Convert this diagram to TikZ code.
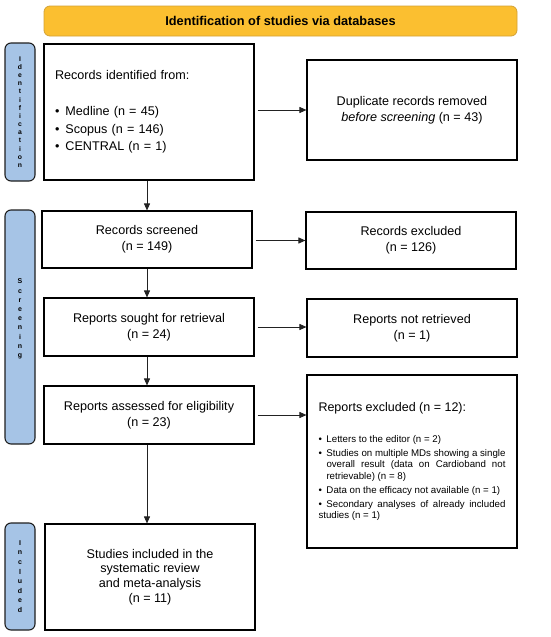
\documentclass[tikz,border=0pt]{standalone}
\usepackage{fontspec}
\setmainfont{Liberation Sans}
\usetikzlibrary{arrows.meta,calc}
\definecolor{bannerfill}{HTML}{FBBF30}
\definecolor{bannerdraw}{HTML}{D4A234}
\definecolor{sidefill}{HTML}{A6C4E6}
\definecolor{sidedraw}{HTML}{1F1F1F}
\definecolor{arrowcol}{HTML}{222222}
\newcommand\exitem[1]{\par\vspace{2.8pt}\hangindent=8pt\hangafter=1\noindent\makebox[8pt][l]{\textbullet}#1}
\newcommand\idbullet{\makebox[10.5pt][l]{\textbullet}}
\begin{document}
\begin{tikzpicture}[x=1pt,y=-1pt,
  box/.style={draw=black, line width=1.1pt, minimum width=210pt, align=center, inner sep=0pt,
    font=\fontsize{12.6}{15.8}\selectfont},
  sidebar/.style={draw=sidedraw, fill=sidefill, line width=1.1pt, rounded corners=6pt,
    minimum width=30pt, align=center, inner sep=0pt,
    font=\fontsize{7}{9.6}\selectfont\bfseries},
  banner/.style={draw=bannerdraw, fill=bannerfill, line width=0.8pt, rounded corners=6pt,
    minimum width=473pt, minimum height=30pt, inner sep=0pt,
    font=\fontsize{12.75}{15}\selectfont\bfseries},
  arr/.style={draw=arrowcol, line width=0.9pt, -{Triangle[length=7pt,width=6pt]}}]
\useasboundingbox[fill=white] (0,0) rectangle (550,637);

% banner
\node[banner] (banner) at (280.5,21) {Identification of studies via databases};

% side bars
\node[sidebar, minimum height=138pt, font=\fontsize{6.8}{8.15}\selectfont\bfseries] (sideid) at (20,112)
  {I\\d\\e\\n\\t\\i\\f\\i\\c\\a\\t\\i\\o\\n};
\node[sidebar, minimum height=234pt] (sidescr) at (20,327) {};
\node[font=\fontsize{7}{9.2}\selectfont\bfseries, align=center, inner sep=0pt] (sidescrtext) at (20,319)
  {S\\c\\r\\e\\e\\n\\i\\n\\g};
\node[sidebar, minimum height=107pt] (sideinc) at (20,576.5) {I\\n\\c\\l\\u\\d\\e\\d};

% left column
\node[box, minimum height=136pt, text width=188pt, align=left, inner xsep=11pt,
  font=\fontsize{12.6}{17.5}\selectfont] (ident) at (149,112)
  {Records identified from:\\[18.5pt]
   \idbullet Medline (n = 45)\\
   \idbullet Scopus (n = 146)\\
   \idbullet CENTRAL (n = 1)};
\node[box, minimum height=57pt] (screened) at (147,239.5) {Records screened\\(n = 149)};
\node[box, minimum height=58pt] (sought) at (149,327) {Reports sought for retrieval\\(n = 24)};
\node[box, minimum height=58pt] (assessed) at (149,415) {Reports assessed for eligibility\\(n = 23)};
\node[box, minimum height=106pt, font=\fontsize{12.6}{14.7}\selectfont] (included) at (150,577)
  {Studies included in the\\systematic review\\and meta-analysis\\(n = 11)};

% right column
\node[box, minimum height=100pt] (dup) at (412,110)
  {Duplicate records removed\\\textit{before screening} (n = 43)};
\node[box, minimum height=57pt] (excl) at (411,240.5) {Records excluded\\(n = 126)};
\node[box, minimum height=58pt] (notret) at (412,328) {Reports not retrieved\\(n = 1)};
\node[box, minimum height=173pt, text width=187pt, inner xsep=11.5pt, align=justify,
  font=\fontsize{9.7}{11.3}\selectfont] (repexcl) at (412,461.5)
  {\hyphenpenalty=10000 \exhyphenpenalty=10000 \noindent
   {\fontsize{12.5}{15}\selectfont Reports excluded (n = 12):\par}\vspace{20pt}%
   \hangindent=8pt\hangafter=1\noindent\makebox[8pt][l]{\textbullet}Letters to the editor (n = 2)%
   \exitem{Studies on multiple MDs showing a single overall result (data on Cardioband not retrievable) (n = 8)}%
   \exitem{Data on the efficacy not available (n = 1)}%
   \exitem{Secondary analyses of already included studies (n = 1)}};

% connectors
\draw[arr] (ident.south -| screened.north) -- (screened.north);
\draw[arr] (screened.south) -- (screened.south |- sought.north);
\draw[arr] (sought.south -| screened.south) -- (screened.south |- assessed.north);
\draw[arr] (assessed.south -| screened.south) -- (screened.south |- included.north);
\draw[arr] ([xshift=3pt]ident.east |- dup.west) -- (dup.west);
\draw[arr] ([xshift=3pt]screened.east |- excl.west) -- (excl.west);
\draw[arr] ([xshift=3pt]sought.east) -- (sought.east -| notret.west);
\draw[arr] ([xshift=3pt]assessed.east) -- (assessed.east -| repexcl.west);
\end{tikzpicture}
\end{document}
